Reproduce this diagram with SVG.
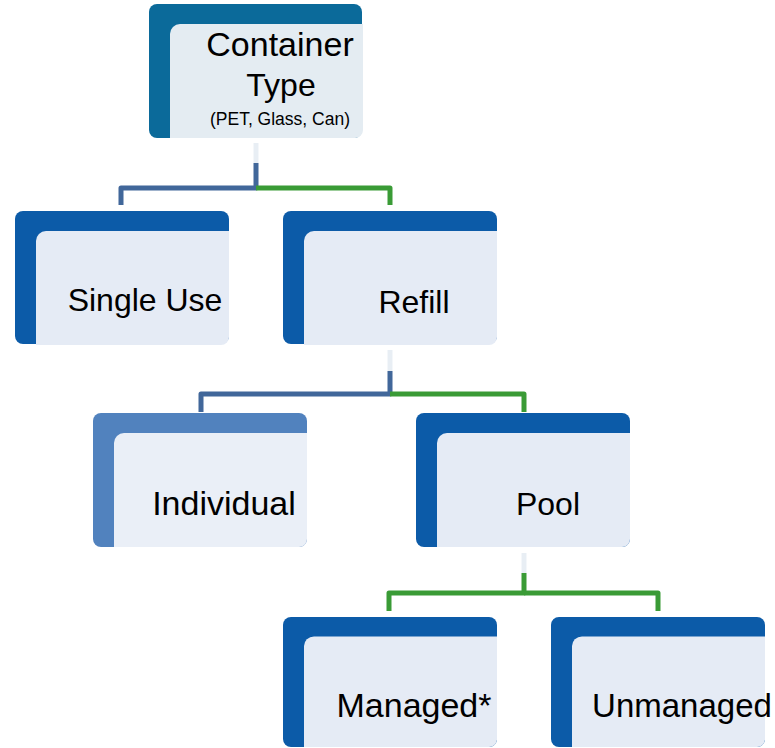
<svg xmlns="http://www.w3.org/2000/svg" width="775" height="748" viewBox="0 0 775 748">
<style>
.bg{fill:#ffffff}
.outer{fill:#0C5BA8}
.inner{fill:#E5EBF5}
.outer-top{fill:#0B6A9A}
.inner-top{fill:#E4ECF2}
.outer-ind{fill:#5182BE}
.inner-ind{fill:#EAEFF7}
.lbl{font-family:"Liberation Sans",Arial,sans-serif;font-size:32px;fill:#000;text-anchor:middle}
.big{font-size:34px}
.small{font-size:17.5px}
.c{fill:none;stroke-width:5;stroke-linejoin:round}
.blue{stroke:#41679A}
.green{stroke:#3A9B36}
.stub{stroke:#E8EEF4}
</style>
<defs>
<path id="innerShape" d="M21,30 A10,10 0 0 1 31,20 H214 V126 A8,8 0 0 1 206,134 H21 Z"/>
</defs>
<rect class="bg" x="0" y="0" width="775" height="748"/>
<g id="connectors">
<path class="c stub" d="M256,143 V163"/>
<path class="c blue" d="M256,163 V188 H121 V205"/>
<path class="c green" d="M256,188 H390 V205"/>
<path class="c stub" d="M390,350 V371"/>
<path class="c blue" d="M390,371 V394 H201 V412"/>
<path class="c green" d="M390,394 H524 V412"/>
<path class="c stub" d="M524,553 V573"/>
<path class="c green" d="M524,573 V593 H389 V611"/>
<path class="c green" d="M524,593 H658 V611"/>
</g>
<g id="node-container" transform="translate(149,4)">
<rect class="outer-top" width="213" height="134" rx="8"/>
<use href="#innerShape" class="inner-top"/>
<text class="lbl big" x="131" y="52">Container</text>
<text class="lbl" x="132" y="92">Type</text>
<text class="lbl small" x="131" y="121">(PET, Glass, Can)</text>
</g>
<g id="node-single" transform="translate(15,211)">
<rect class="outer" width="214" height="133" rx="8"/>
<use href="#innerShape" class="inner"/>
<text class="lbl" x="130" y="100">Single Use</text>
</g>
<g id="node-refill" transform="translate(283,211)">
<rect class="outer" width="214" height="133" rx="8"/>
<use href="#innerShape" class="inner"/>
<text class="lbl" x="131" y="102">Refill</text>
</g>
<g id="node-individual" transform="translate(93,413)">
<rect class="outer-ind" width="214" height="134" rx="8"/>
<use href="#innerShape" class="inner-ind"/>
<text class="lbl big" x="131" y="102">Individual</text>
</g>
<g id="node-pool" transform="translate(416,413)">
<rect class="outer" width="214" height="134" rx="8"/>
<use href="#innerShape" class="inner"/>
<text class="lbl" x="132" y="102">Pool</text>
</g>
<g id="node-managed" transform="translate(283,617)">
<rect class="outer" width="214" height="130" rx="8"/>
<use href="#innerShape" class="inner" transform="scale(1,0.97)"/>
<text class="lbl big" x="131" y="100">Managed*</text>
</g>
<g id="node-unmanaged" transform="translate(551,617)">
<rect class="outer" width="214" height="130" rx="8"/>
<use href="#innerShape" class="inner" transform="scale(1,0.97)"/>
<text class="lbl" x="131" y="100" style="font-size:33px">Unmanaged</text>
</g>
</svg>
